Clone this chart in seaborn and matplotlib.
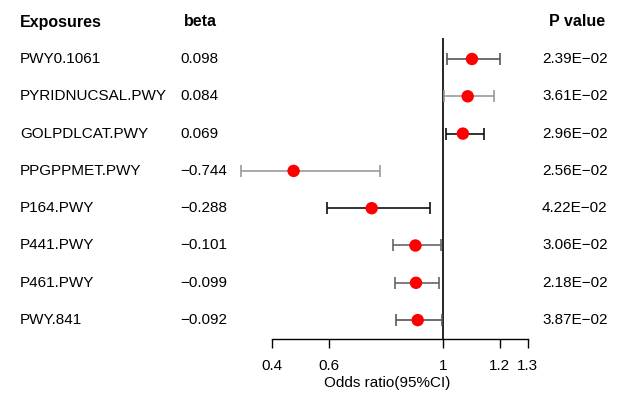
import matplotlib
matplotlib.use("Agg")
import matplotlib.pyplot as plt
import seaborn as sns
import pandas as pd
import numpy as np

exposures = ["PWY0.1061", "PYRIDNUCSAL.PWY", "GOLPDLCAT.PWY", "PPGPPMET.PWY",
             "P164.PWY", "P441.PWY", "P461.PWY", "PWY.841"]
beta = ["0.098", "0.084", "0.069", "\u22120.744", "\u22120.288", "\u22120.101", "\u22120.099", "\u22120.092"]
odds_ratio = [1.103, 1.088, 1.071, 0.475, 0.750, 0.904, 0.906, 0.912]
ci_low = [1.016, 1.006, 1.011, 0.291, 0.592, 0.826, 0.833, 0.837]
ci_high = [1.202, 1.180, 1.144, 0.780, 0.954, 0.993, 0.988, 0.996]
p_values = ["2.39E\u221202", "3.61E\u221202", "2.96E\u221202", "2.56E\u221202",
            "4.22E\u221202", "3.06E\u221202", "2.18E\u221202", "3.87E\u221202"]
xticks = [0.4, 0.6, 1, 1.2, 1.3]
xtick_labels = ["0.4", "0.6", "1", "1.2", "1.3"]

line_colors = ["#555555", "#999999", "#111111", "#999999", "#111111", "#666666", "#666666", "#555555"]

sns.set_style("white")
plt.rcParams['font.family'] = ['Liberation Sans', 'DejaVu Sans']
plt.rcParams['text.color'] = 'black'
plt.rcParams['xtick.color'] = 'black'
plt.rcParams['xtick.labelcolor'] = 'black'

W, H = 626, 393
fig = plt.figure(figsize=(W / 100, H / 100), dpi=100)
ax = fig.add_axes([0, 0, 1, 1])

# pixel mapping
x0px, ppu = 442.7, 284.0
row0px, rowstep = 59.0, 37.3
ax.set_xlim(1 - x0px / ppu, 1 + (W - x0px) / ppu)
ax.set_ylim((H - row0px) / rowstep, -row0px / rowstep)

def xdata(px):
    return 1 + (px - x0px) / ppu

def ydata(px):
    return (px - row0px) / rowstep

df = pd.DataFrame({"row": np.arange(len(exposures)), "OR": odds_ratio,
                   "lo": ci_low, "hi": ci_high})

# CIs
for i, r in df.iterrows():
    eb = ax.errorbar(r["OR"], r["row"], xerr=[[r["OR"] - r["lo"]], [r["hi"] - r["OR"]]],
                     fmt="none", ecolor=line_colors[i], elinewidth=1.2, capsize=4.5,
                     capthick=1.2, zorder=2)
    for cl in eb[1]:
        cl.set_color("#333333")

sns.scatterplot(data=df, x="OR", y="row", color="red", s=80, edgecolor="none",
                ax=ax, zorder=3, legend=False)

# reference line
ax.vlines(1, ydata(38), ydata(339), color="black", lw=1.2, zorder=1)

# bottom axis
for s in ["top", "right", "left"]:
    ax.spines[s].set_visible(False)
ax.spines["bottom"].set_position(("data", ydata(339)))
ax.spines["bottom"].set_bounds(0.4, 1.3)
ax.spines["bottom"].set_linewidth(1.0)
ax.spines["bottom"].set_color("black")
ax.set_xticks(xticks)
ax.set_xticklabels(xtick_labels, fontsize=11)
ax.tick_params(axis="x", direction="out", length=6.5, width=1.0, color="black",
               labelcolor="black", pad=8, bottom=True)
ax.set_yticks([])
ax.set_xlabel("")
ax.set_ylabel("")
ax.text(xdata(387), ydata(383), "Odds ratio(95%CI)", ha="center", va="center", fontsize=11)

# text columns
hy = ydata(22)
ax.text(xdata(20), hy, "Exposures", ha="left", va="center", fontsize=11.5, fontweight="bold")
ax.text(xdata(184), hy, "beta", ha="left", va="center", fontsize=11.5, fontweight="bold")
ax.text(xdata(605), hy, "P value", ha="right", va="center", fontsize=11.5, fontweight="bold")
for i in range(len(exposures)):
    ax.text(xdata(20), i, exposures[i], ha="left", va="center", fontsize=11)
    ax.text(xdata(180), i, beta[i], ha="left", va="center", fontsize=11)
    ax.text(xdata(542), i, p_values[i], ha="left", va="center", fontsize=11)

fig.savefig("out.png", dpi=100, facecolor="white")
